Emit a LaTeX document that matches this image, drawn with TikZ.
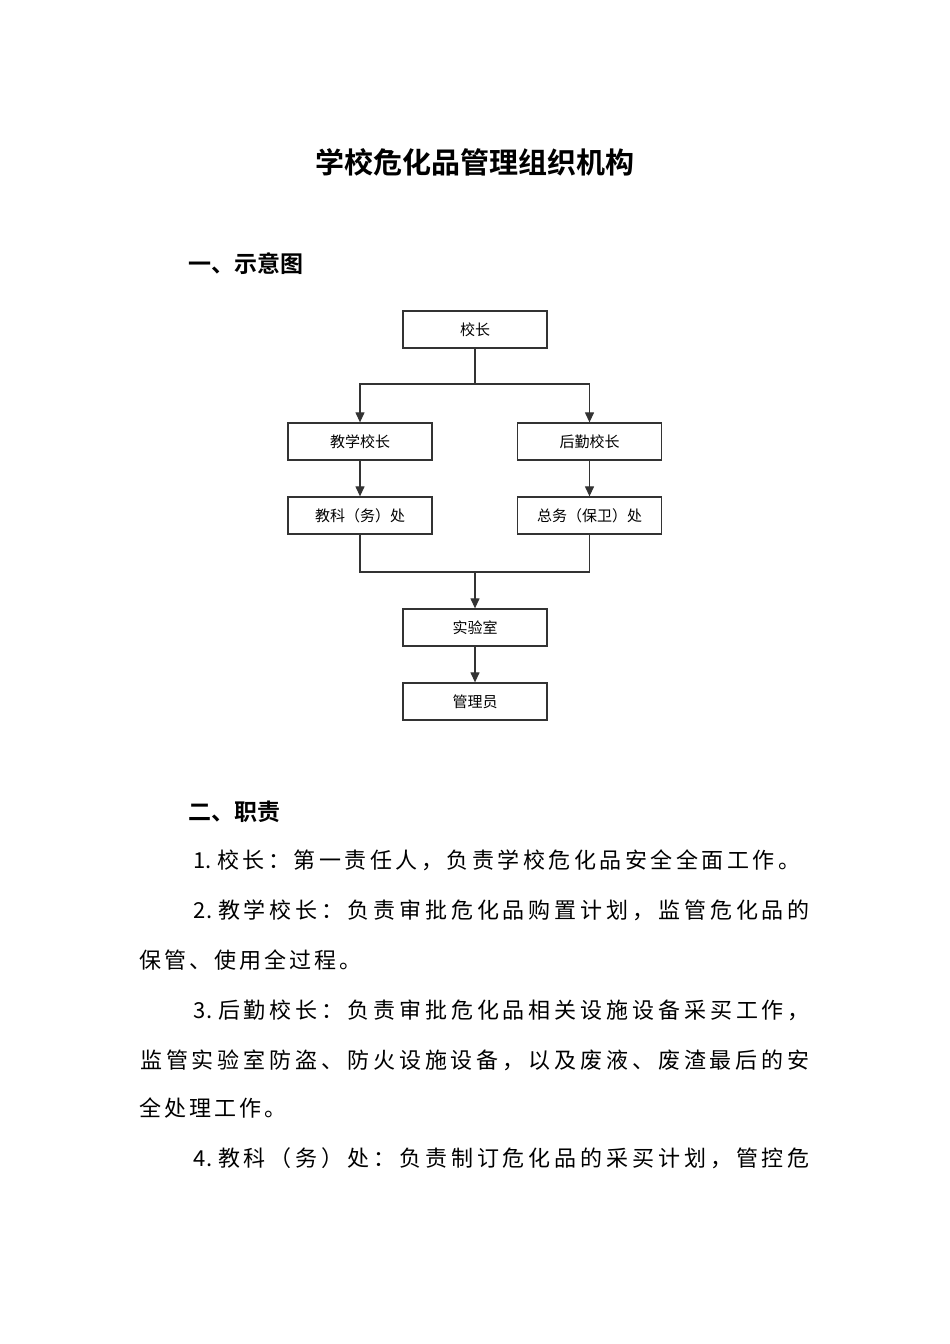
\documentclass[tikz,border=0pt]{standalone}
\usepackage{fontspec}
\usetikzlibrary{arrows.meta}
\newfontfamily\cjk{Noto Sans CJK SC}
\newfontfamily\cjkb{Noto Sans CJK SC Bold}
\definecolor{ln}{HTML}{333333}
\def\cellend{}
\def\cellstopm{\cellend}
\def\cellsA#1{\def\tmp{#1}\ifx\tmp\cellstopm\else\makebox[\cellw][c]{#1}\expandafter\cellsA\fi}
\newcommand\cellrow[2]{\def\cellw{#1}\cellsA#2\cellend}
\begin{document}
\begin{tikzpicture}[x=1pt,y=-1pt,
  box/.style={draw=ln,line width=1.3pt,minimum width=144pt,minimum height=37pt,inner sep=0pt,font=\cjk\fontsize{15}{15}\selectfont},
  arr/.style={draw=ln,line width=1.2pt,-{Triangle[length=10pt,width=9pt]}},
  lnk/.style={draw=ln,line width=1.2pt},
  txt/.style={anchor=west,inner sep=0pt,font=\cjk\fontsize{22}{22}\selectfont},
  head/.style={anchor=west,inner sep=0pt,font=\cjkb\fontsize{23}{23}\selectfont}]
\useasboundingbox[fill=white] (0,0) rectangle (950,1344);
\node[inner sep=0pt,font=\cjkb\fontsize{29}{29}\selectfont] (title) at (475,162) {学校危化品管理组织机构};
\node[head] (h1) at (188,264) {一、示意图};
% boxes
\node[box] (xz) at (475,329.5) {校长};
\node[box] (jx) at (360,441.5) {教学校长};
\node[box] (hq) at (589.5,441.5) {后勤校长};
\node[box] (jk) at (360,515.5) {教科（务）处};
\node[box] (zw) at (589.5,515.5) {总务（保卫）处};
\node[box] (sy) at (475,627.5) {实验室};
\node[box] (gl) at (475,701.5) {管理员};
\coordinate (j1) at (475,384);
\coordinate (j2) at (475,572);
\draw[lnk] (xz.south) -- (j1);
\draw[arr] (j1) -| (jx.north);
\draw[arr] (j1) -| (hq.north);
\draw[arr] (jx.south) -- (jk.north);
\draw[arr] (hq.south) -- (zw.north);
\draw[lnk] (jk.south) |- (j2) -| (zw.south);
\draw[arr] (j2) -- (sy.north);
\draw[arr] (sy.south) -- (gl.north);
% section 2
\node[head] (h2) at (188,812) {二、职责};
\node[txt] (l1) at (190,860) {\cellrow{25.5pt}{{1.}校长：第一责任人，负责学校危化品安全全面工作。}};
\node[txt] (l2) at (190,910) {\cellrow{25.9pt}{{2.}教学校长：负责审批危化品购置计划，监管危化品的}};
\node[txt] (l3) at (138,960) {\cellrow{25pt}{保管、使用全过程。}};
\node[txt] (l4) at (190,1010) {\cellrow{25.9pt}{{3.}后勤校长：负责审批危化品相关设施设备采买工作，}};
\node[txt] (l5) at (138,1060) {\cellrow{25.9pt}{监管实验室防盗、防火设施设备，以及废液、废渣最后的安}};
\node[txt] (l6) at (138,1108) {\cellrow{25pt}{全处理工作。}};
\node[txt] (l7) at (190,1158) {\cellrow{25.9pt}{{4.}教科（务）处：负责制订危化品的采买计划，管控危}};
\end{tikzpicture}
\end{document}
